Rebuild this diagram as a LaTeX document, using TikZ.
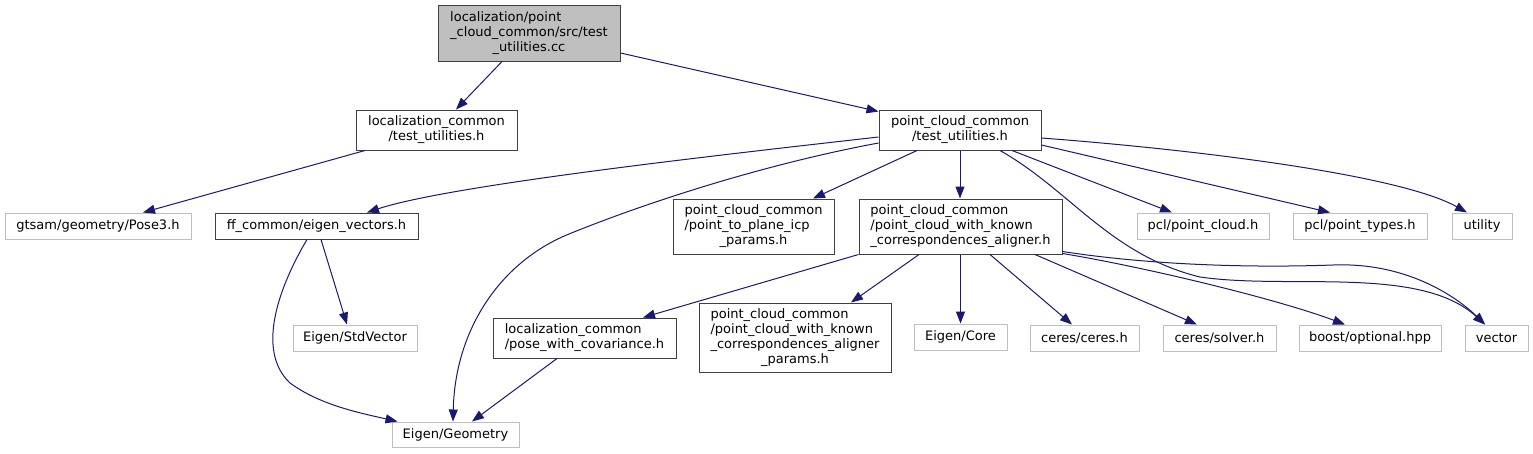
\documentclass[tikz,border=0pt]{standalone}
\usepackage{fontspec}
\setmainfont{DejaVu Sans}
\usetikzlibrary{arrows.meta}
\definecolor{edgec}{HTML}{191970}
\definecolor{docb}{HTML}{404040}
\definecolor{extb}{HTML}{BFBFBF}
\definecolor{rootf}{HTML}{BFBFBF}
\newcommand{\lastln}[1]{\multicolumn{1}{@{}c@{}}{#1}}
\begin{document}
\begin{tikzpicture}[x=1pt,y=-1pt,
  box/.style={rectangle, inner sep=0pt, line width=1pt, font=\fontsize{13}{15}\selectfont, text=black},
  doc/.style={box, draw=docb, fill=white},
  ext/.style={box, draw=extb, fill=white},
  rootbox/.style={box, draw=docb, fill=rootf},
  dep/.style={draw=edgec, line width=1pt, -{Triangle[length=12pt,width=9pt]}}]
\useasboundingbox[fill=white] (0,0) rectangle (1533,453);

% nodes
\node[rootbox, minimum width=182pt, minimum height=56pt] (root) at (529,33)
  {\begin{tabular}{@{}l@{}}localization/point\\\_cloud\_common/src/test\\\lastln{\_utilities.cc}\end{tabular}};
\node[doc, minimum width=161pt, minimum height=40pt] (lctu) at (436.5,130)
  {\begin{tabular}{@{}l@{}}localization\_common\\\lastln{/test\_utilities.h}\end{tabular}};
\node[doc, minimum width=162pt, minimum height=40pt] (pcctu) at (960,130)
  {\begin{tabular}{@{}l@{}}point\_cloud\_common\\\lastln{/test\_utilities.h}\end{tabular}};
\node[ext, minimum width=186pt, minimum height=26pt] (gtsam) at (98,226) {gtsam/geometry/Pose3.h};
\node[doc, minimum width=203pt, minimum height=26pt] (ffc) at (316.5,226) {ff\_common/eigen\_vectors.h};
\node[doc, minimum width=161pt, minimum height=55pt] (pctpi) at (753.5,226.5)
  {\begin{tabular}{@{}l@{}}point\_cloud\_common\\/point\_to\_plane\_icp\\\lastln{\_params.h}\end{tabular}};
\node[doc, minimum width=203pt, minimum height=55pt] (pccw) at (960.5,226.5)
  {\begin{tabular}{@{}l@{}}point\_cloud\_common\\/point\_cloud\_with\_known\\\lastln{\_correspondences\_aligner.h}\end{tabular}};
\node[ext, minimum width=132pt, minimum height=26pt] (pclpc) at (1203,226) {pcl/point\_cloud.h};
\node[ext, minimum width=134pt, minimum height=26pt] (pclpt) at (1360,226) {pcl/point\_types.h};
\node[ext, minimum width=60pt, minimum height=26pt] (util) at (1482,226) {utility};
\node[ext, minimum width=124pt, minimum height=26pt] (stdvec) at (355,338) {Eigen/StdVector};
\node[doc, minimum width=183pt, minimum height=40pt] (posecov) at (584.5,338)
  {\begin{tabular}{@{}l@{}}localization\_common\\\lastln{/pose\_with\_covariance.h}\end{tabular}};
\node[doc, minimum width=192pt, minimum height=69pt] (alparams) at (795,337.5)
  {\begin{tabular}{@{}l@{}}point\_cloud\_common\\/point\_cloud\_with\_known\\\_correspondences\_aligner\\\lastln{\_params.h}\end{tabular}};
\node[ext, minimum width=93pt, minimum height=26pt] (ecore) at (960.5,337) {Eigen/Core};
\node[ext, minimum width=109pt, minimum height=26pt] (ceres) at (1084.5,338) {ceres/ceres.h};
\node[ext, minimum width=113pt, minimum height=26pt] (solver) at (1219.5,338) {ceres/solver.h};
\node[ext, minimum width=142pt, minimum height=26pt] (boost) at (1370,338) {boost/optional.hpp};
\node[ext, minimum width=63pt, minimum height=26pt] (vector) at (1496.5,338) {vector};
\node[ext, minimum width=127pt, minimum height=25pt] (egeom) at (455.5,434.5) {Eigen/Geometry};

% edges
\draw[dep] ([xshift=-27pt]root.south) -- ([xshift=19.5pt]lctu.north);
\draw[dep] ([yshift=-20pt]root.east) -- ([yshift=-2pt]pcctu.north west);
\draw[dep] ([xshift=-71.5pt]lctu.south) -- ([xshift=45pt]gtsam.north);
\draw[dep] ([yshift=-7pt]pcctu.west) .. controls (720,155) and (450,185) .. ([xshift=50.5pt]ffc.north);
\draw[dep] ([yshift=-13pt]pcctu.west) .. controls (760,165) and (640,205) .. (569,234)
  .. controls (500,262) and (455,330) .. ([xshift=-2.5pt]egeom.north);
\draw[dep] ([xshift=-43pt]pcctu.south) -- ([xshift=59.5pt]pctpi.north);
\draw[dep] (pcctu.south) -- (pcctu.south |- pccw.north);
\draw[dep] ([xshift=40pt]pcctu.south) .. controls (1070,190) and (1110,255) .. (1200,277)
  .. controls (1290,290) and (1420,265) .. ([xshift=-11.5pt]vector.north);
\draw[dep] ([xshift=52pt]pcctu.south) -- ([xshift=-31pt]pclpc.north);
\draw[dep] ([yshift=-15pt]pcctu.east) -- ([xshift=-30pt]pclpt.north);
\draw[dep] ([yshift=-8pt]pcctu.east) .. controls (1200,150) and (1400,175) .. ([xshift=-15pt]util.north);
\draw[dep] ([xshift=-9.5pt]ffc.south) .. controls (280,285) and (255,350) .. (290,383)
  .. controls (320,405) and (360,413) .. ([xshift=6pt]egeom.north west);
\draw[dep] ([xshift=4.5pt]ffc.south) -- ([xshift=-8pt]stdvec.north);
\draw[dep] (pccw.south west) -- ([xshift=58.5pt]posecov.north);
\draw[dep] ([xshift=-41.5pt]pccw.south) -- ([xshift=56pt]alparams.north);
\draw[dep] (pccw.south) -- (ecore.north);
\draw[dep] ([xshift=29.5pt]pccw.south) -- ([xshift=-12.5pt]ceres.north);
\draw[dep] ([xshift=74.5pt]pccw.south) -- ([xshift=-22.5pt]solver.north);
\draw[dep] ([yshift=1pt]pccw.south east) .. controls (1150,268) and (1280,300) .. ([xshift=-25pt]boost.north);
\draw[dep] ([yshift=3pt]pccw.south east) .. controls (1150,265) and (1250,268) .. (1333,265)
  .. controls (1410,262) and (1460,300) .. ([xshift=-11.5pt]vector.north);
\draw[dep] ([xshift=-27.5pt]posecov.south) -- ([xshift=16.5pt]egeom.north);
\end{tikzpicture}
\end{document}
